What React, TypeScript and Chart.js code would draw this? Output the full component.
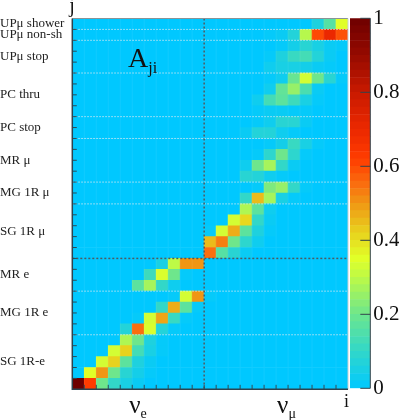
import React, { useEffect, useRef } from "react";
import { Chart, registerables } from "chart.js";

Chart.register(...registerables);

const columns = ["1","2","3","4","5","6","7","8","9","10","11","12","13","14","15","16","17","18","19","20","21","22","23"];

// Rows listed from bottom (index 0) to top (index 33); each value is A_ji for columns i = 0..22.
const sg1rE = [
  [1.0,.62,.2,.1,.05,.02,0,0,0,0,0,0,0,0,0,0,0,0,0,0,0,0,0],
  [0,.35,.5,.2,.08,.04,.01,0,0,0,0,0,0,0,0,0,0,0,0,0,0,0,0],
  [0,0,.33,.42,.17,.06,.02,0,0,0,0,0,0,0,0,0,0,0,0,0,0,0,0],
  [0,0,0,.33,.42,.13,.05,.01,0,0,0,0,0,0,0,0,0,0,0,0,0,0,0],
  [0,0,0,0,.28,.2,.06,.01,0,0,0,0,0,0,0,0,0,0,0,0,0,0,0],
];
const mg1rE = [
  [0,0,0,0,.07,.55,.34,.07,.01,0,0,0,0,0,0,0,0,0,0,0,0,0,0],
  [0,0,0,0,0,.01,.33,.48,.11,.01,0,0,0,0,0,0,0,0,0,0,0,0,0],
  [0,0,0,0,0,0,0,.1,.47,.17,.01,0,0,0,0,0,0,0,0,0,0,0,0],
  [0,0,0,0,0,0,0,0,.01,.33,.5,.01,0,0,0,0,0,0,0,0,0,0,0],
];
const mrE = [
  [0,0,0,0,0,.17,.27,.1,.03,0,0,0,0,0,0,0,0,0,0,0,0,0,0],
  [0,0,0,0,0,0,.12,.34,.2,.01,0,0,0,0,0,0,0,0,0,0,0,0,0],
  [0,0,0,0,0,0,0,.05,.3,.5,.5,0,0,0,0,0,0,0,0,0,0,0,0],
];
const sg1rMu = [
  [0,0,0,0,0,0,0,0,0,0,0,.55,.16,.08,.02,0,0,0,0,0,0,0,0],
  [0,0,0,0,0,0,0,0,0,0,0,.45,.53,.2,.09,.03,0,0,0,0,0,0,0],
  [0,0,0,0,0,0,0,0,0,0,0,.01,.33,.47,.17,.06,.01,0,0,0,0,0,0],
  [0,0,0,0,0,0,0,0,0,0,0,0,0,.33,.41,.1,.02,0,0,0,0,0,0],
  [0,0,0,0,0,0,0,0,0,0,0,0,0,0,.28,.17,.03,0,0,0,0,0,0],
];
const mg1rMu = [
  [0,0,0,0,0,0,0,0,0,0,0,0,0,0,.1,.45,.27,.05,.01,0,0,0,0],
  [0,0,0,0,0,0,0,0,0,0,0,0,0,0,0,.01,.22,.25,.1,.01,0,0,0],
];
const mrMu = [
  [0,0,0,0,0,0,0,0,0,0,0,0,0,0,.08,.07,.03,.01,0,0,0,0,0],
  [0,0,0,0,0,0,0,0,0,0,0,0,0,0,.03,.2,.27,.1,.02,0,0,0,0],
  [0,0,0,0,0,0,0,0,0,0,0,0,0,0,0,.01,.09,.2,.09,.01,0,0,0],
  [0,0,0,0,0,0,0,0,0,0,0,0,0,0,0,0,.01,.04,.11,.05,.01,0,0],
];
const pcStop = [
  [0,0,0,0,0,0,0,0,0,0,0,0,0,0,.02,.07,.07,.03,.01,0,0,0,0],
  [0,0,0,0,0,0,0,0,0,0,0,0,0,0,0,.01,.03,.08,.08,.02,0,0,0],
];
const pcThru = [
  [0,0,0,0,0,0,0,0,0,0,0,0,0,0,0,.01,.02,.02,.01,.01,0,0,0],
  [0,0,0,0,0,0,0,0,0,0,0,0,0,0,0,.03,.13,.17,.12,.05,.01,0,0],
  [0,0,0,0,0,0,0,0,0,0,0,0,0,0,0,0,.03,.18,.25,.14,.02,0,0],
  [0,0,0,0,0,0,0,0,0,0,0,0,0,0,0,0,.01,.03,.19,.33,.2,.08,.01],
];
const upMuStop = [
  [0,0,0,0,0,0,0,0,0,0,0,0,0,0,0,0,.03,.05,.05,.04,.02,.01,0],
  [0,0,0,0,0,0,0,0,0,0,0,0,0,0,0,0,.01,.06,.11,.13,.07,.02,0],
  [0,0,0,0,0,0,0,0,0,0,0,0,0,0,0,0,0,.01,.04,.08,.05,.02,.01],
];
const upMuNonSh = [
  [0,0,0,0,0,0,0,0,0,0,0,0,0,0,0,0,.01,.02,.07,.29,.6,.7,.59],
];
const upMuShower = [
  [0,0,0,0,0,0,0,0,0,0,0,0,0,0,0,0,0,0,0,0,.06,.16,.35],
];

const rowGroups = [sg1rE, mg1rE, mrE, sg1rMu, mg1rMu, mrMu, pcStop, pcThru, upMuStop, upMuNonSh, upMuShower];
const groupLabels = ["SG 1R-e", "MG 1R e", "MR e", "SG 1R μ", "MG 1R μ", "MR μ", "PC stop", "PC thru", "UPμ stop", "UPμ non-sh", "UPμ shower"];

const barTicks = [0, 0.2, 0.4, 0.6, 0.8, 1];
const barLevels = [0,.02,.04,.06,.08,.1,.12,.14,.16,.18,.2,.22,.24,.26,.28,.3,.32,.34,.36,.38,.4,.42,.44,.46,.48,.5,.52,.54,.56,.58,.6,.62,.64,.66,.68,.7,.72,.74,.76,.78,.8,.82,.84,.86,.88,.9,.92,.94,.96,.98];

const stopValues = [0, .05, .1, .2, .3, .35, .42, .5, .55, .62, .7, .8, .9, 1];
const stopColors = [
  [0,200,255],[25,208,228],[50,215,200],[110,230,140],[190,250,70],[225,255,40],
  [232,210,30],[240,150,20],[250,110,15],[255,60,0],[235,40,0],[200,25,0],[150,10,0],[110,0,0],
];

function colorOf(v: number): string {
  let i = 0;
  while (i < stopValues.length - 2 && v > stopValues[i + 1]) i++;
  const t = Math.min(1, Math.max(0, (v - stopValues[i]) / (stopValues[i + 1] - stopValues[i])));
  const c = stopColors[i].map((a, k) => Math.round(a + (stopColors[i + 1][k] - a) * t));
  return `rgb(${c[0]},${c[1]},${c[2]})`;
}

const SERIF = '"Liberation Serif"';

export default function App() {
  const mainRef = useRef<HTMLCanvasElement>(null);
  const barRef = useRef<HTMLCanvasElement>(null);

  useEffect(() => {
    const rows = rowGroups.flat();
    const boundaries: number[] = [];
    const centers: number[] = [];
    let acc = 0;
    rowGroups.forEach((g) => {
      centers.push(acc + g.length / 2);
      acc += g.length;
      boundaries.push(acc);
    });
    const nRows = rows.length;
    const splitRow = sg1rE.length + mg1rE.length + mrE.length;
    const splitCol = 11;

    const decor = {
      id: "decor",
      afterDatasetsDraw(chart: any) {
        const { ctx, chartArea: a, scales } = chart;
        const x = scales.x;
        const y = scales.y;
        const edge = (i: number) => x.getPixelForValue(i - 0.5);
        ctx.save();
        // faint cell seams
        ctx.lineWidth = 1;
        ctx.strokeStyle = "rgba(255,255,255,0.07)";
        for (let c = 1; c < columns.length; c++) {
          const p = edge(c);
          ctx.beginPath(); ctx.moveTo(p, a.top); ctx.lineTo(p, a.bottom); ctx.stroke();
        }
        // group separators
        ctx.setLineDash([1.5, 1.5]);
        ctx.lineWidth = 1;
        ctx.strokeStyle = "rgba(205,232,242,0.9)";
        boundaries.slice(0, -1).forEach((b) => {
          if (b === splitRow) return;
          const p = y.getPixelForValue(b);
          ctx.beginPath(); ctx.moveTo(a.left, p); ctx.lineTo(a.right, p); ctx.stroke();
        });
        // nu_e / nu_mu and e / mu split
        ctx.setLineDash([2, 2]);
        ctx.lineWidth = 1.5;
        ctx.strokeStyle = "#4d5a60";
        const sy = y.getPixelForValue(splitRow);
        ctx.beginPath(); ctx.moveTo(a.left, sy); ctx.lineTo(a.right, sy); ctx.stroke();
        const sx = edge(splitCol);
        ctx.beginPath(); ctx.moveTo(sx, a.top); ctx.lineTo(sx, a.bottom); ctx.stroke();
        // inward ticks
        ctx.setLineDash([]);
        ctx.lineWidth = 1;
        ctx.strokeStyle = "#2c4a56";
        for (let r = 1; r < nRows; r++) {
          const p = y.getPixelForValue(r);
          ctx.beginPath(); ctx.moveTo(a.left, p); ctx.lineTo(a.left + 4.5, p); ctx.stroke();
        }
        for (let c = 1; c < columns.length; c++) {
          const p = edge(c);
          ctx.beginPath(); ctx.moveTo(p, a.bottom); ctx.lineTo(p, a.bottom - 4.5); ctx.stroke();
        }
        // frame
        ctx.strokeStyle = "#8a9396";
        ctx.beginPath(); ctx.moveTo(a.left, a.top); ctx.lineTo(a.right, a.top); ctx.stroke();
        ctx.strokeStyle = "#c4d0d4";
        ctx.beginPath(); ctx.moveTo(a.right, a.top); ctx.lineTo(a.right, a.bottom); ctx.stroke();
        ctx.lineWidth = 1.5;
        ctx.strokeStyle = "#2c4450";
        ctx.beginPath(); ctx.moveTo(a.left, a.top); ctx.lineTo(a.left, a.bottom); ctx.lineTo(a.right, a.bottom); ctx.stroke();
        // text
        ctx.fillStyle = "#111";
        ctx.textBaseline = "alphabetic";
        ctx.textAlign = "left";
        const label = (main: string, sub: string, px: number, py: number, big: number, small: number) => {
          ctx.font = `${big}px ${SERIF}`;
          ctx.fillText(main, px, py);
          const w = ctx.measureText(main).width;
          ctx.font = `${small}px ${SERIF}`;
          ctx.fillText(sub, px + w, py + small * 0.38);
        };
        label("ν", "e", (edge(0) + edge(splitCol)) / 2 - 9, a.bottom + 23.7, 25, 14);
        label("ν", "μ", (edge(splitCol) + edge(columns.length)) / 2 + 1, a.bottom + 23.7, 25, 14);
        label("A", "ji", 128, 67, 28, 16);
        ctx.font = `20px ${SERIF}`;
        ctx.fillText("j", a.left - 3, 12);
        ctx.font = `18px ${SERIF}`;
        ctx.fillText("i", a.right - 4, 407);
        ctx.restore();
      },
    };

    const main = new Chart(mainRef.current!, {
      type: "bar",
      plugins: [decor],
      data: {
        labels: columns,
        datasets: rows.map((row, r) => ({
          data: row.map((_, c) => [r, r + 1]) as any,
          backgroundColor: row.map(colorOf),
          borderWidth: 0,
          barPercentage: 1,
          categoryPercentage: 1,
          grouped: false,
        })) as any,
      },
      options: {
        responsive: false,
        animation: false,
        layout: { padding: { left: 0, top: 18.5, right: 51, bottom: 30.7 } },
        plugins: { legend: { display: false }, tooltip: { enabled: false } },
        scales: {
          x: {
            ticks: { display: false },
            grid: { display: false },
            border: { display: false },
            afterFit: (s: any) => { s.height = 0; },
          },
          y: {
            min: 0,
            max: nRows,
            grid: { display: false },
            border: { display: false },
            afterBuildTicks: (s: any) => { s.ticks = centers.map((value) => ({ value })); },
            afterFit: (s: any) => { s.width = 72.3; },
            ticks: {
              autoSkip: false,
              crossAlign: "far",
              color: "#222",
              font: { family: SERIF, size: 13 },
              callback: (v: any) => groupLabels[centers.indexOf(Number(v))] ?? "",
            },
          },
        },
      } as any,
    });

    const barDecor = {
      id: "barDecor",
      afterDatasetsDraw(chart: any) {
        const { ctx, chartArea: a, scales } = chart;
        ctx.save();
        ctx.strokeStyle = "#33434a";
        ctx.lineWidth = 1;
        ctx.beginPath(); ctx.moveTo(a.right, a.top); ctx.lineTo(a.right, a.bottom); ctx.stroke();
        barTicks.forEach((t) => {
          const p = scales.y.getPixelForValue(t);
          ctx.beginPath(); ctx.moveTo(a.right, p); ctx.lineTo(a.right - 10, p); ctx.stroke();
        });
        ctx.restore();
      },
    };

    const bar = new Chart(barRef.current!, {
      type: "bar",
      plugins: [barDecor],
      data: {
        labels: ["A"],
        datasets: barLevels.map((lv) => ({
          data: [[lv, lv + 0.02]] as any,
          backgroundColor: colorOf(lv + 0.01),
          borderWidth: 0,
          barPercentage: 1,
          categoryPercentage: 1,
          grouped: false,
        })) as any,
      },
      options: {
        responsive: false,
        animation: false,
        layout: { padding: { left: 350, top: 18.3, right: 0, bottom: 31.7 } },
        plugins: { legend: { display: false }, tooltip: { enabled: false } },
        scales: {
          x: {
            ticks: { display: false },
            grid: { display: false },
            border: { display: false },
            afterFit: (s: any) => { s.height = 0; },
          },
          y: {
            position: "right",
            min: 0,
            max: 1,
            grid: { display: false, drawTicks: false },
            border: { display: false },
            afterBuildTicks: (s: any) => { s.ticks = barTicks.map((value) => ({ value })); },
            afterFit: (s: any) => { s.width = 28.7; },
            ticks: {
              autoSkip: false,
              padding: 3,
              color: "#111",
              font: { family: SERIF, size: 21 },
              callback: (v: any) => String(v),
            },
          },
        },
      } as any,
    });

    return () => { main.destroy(); bar.destroy(); };
  }, []);

  return (
    <div style={{ position: "fixed", left: 0, top: 0, width: 399, height: 420, background: "#fff" }}>
      <canvas ref={mainRef} width={399} height={420} style={{ position: "absolute", left: 0, top: 0 }} />
      <canvas ref={barRef} width={399} height={420} style={{ position: "absolute", left: 0, top: 0 }} />
    </div>
  );
}
